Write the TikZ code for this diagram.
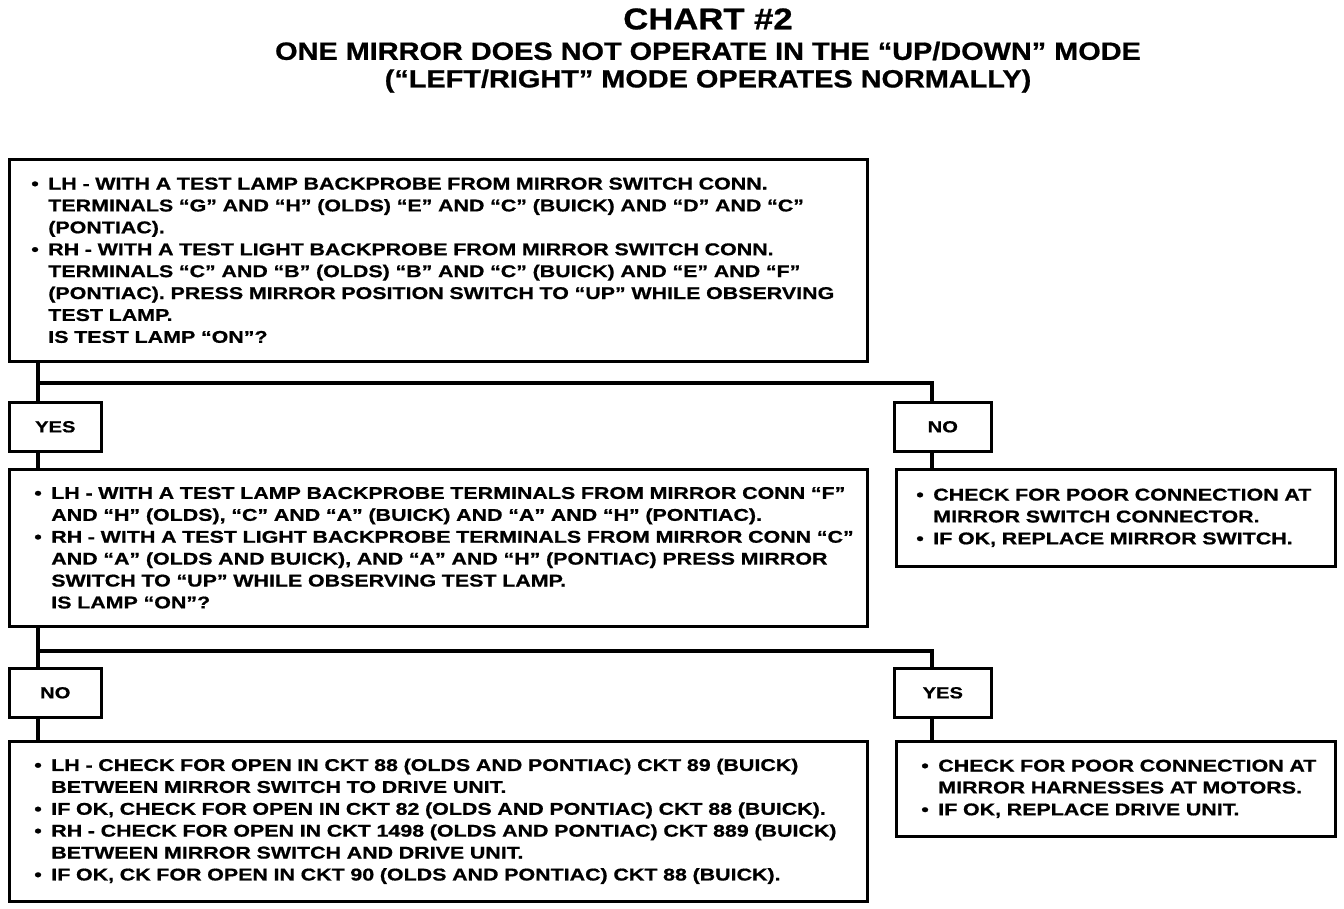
\documentclass[tikz,border=0pt]{standalone}
\usepackage{fontspec}
\newfontfamily\bodyf[FakeStretch=1.26,FakeBold=0.8]{Liberation Sans Bold}
\newfontfamily\titlef[FakeStretch=1.155,FakeBold=0.8]{Liberation Sans Bold}
\newcommand{\bl}{\makebox[17pt][l]{•}}
\newcommand{\ind}{\hspace*{17pt}}
\newcommand{\tline}[1]{\makebox[\linewidth][l]{#1}}
\tikzset{
  box/.style={draw, line width=2.6pt, anchor=north west, align=left, inner ysep=0pt,
    font={\bodyf\fontsize{17}{21.9}\selectfont}},
  lbl/.style={draw, line width=2.6pt, anchor=north west, inner sep=0pt,
    minimum width=92pt, minimum height=49pt, font={\bodyf\fontsize{16}{18}\selectfont}},
  conn/.style={line width=4pt}
}
\begin{document}
\begin{tikzpicture}[x=1pt,y=-1pt]
\useasboundingbox (0,0) rectangle (1344,908);
% title
\node (t1) at (708,19) {\titlef\fontsize{30}{30}\selectfont CHART \#2};
\node (t2) at (708,51) {\titlef\fontsize{25}{25}\selectfont ONE MIRROR DOES NOT OPERATE IN THE “UP/DOWN” MODE};
\node (t3) at (708,81) {\titlef\fontsize{25}{25}\selectfont (“LEFT/RIGHT” MODE OPERATES NORMALLY)};
% box 1
\node[box, minimum width=858pt, minimum height=202pt, text width=814pt, inner xsep=22pt] (box1) at (8,158) {%
\tline{\bl LH - WITH A TEST LAMP BACKPROBE FROM MIRROR SWITCH CONN.}\\
\tline{\ind TERMINALS “G” AND “H” (OLDS) “E” AND “C” (BUICK) AND “D” AND “C”}\\
\tline{\ind (PONTIAC).}\\
\tline{\bl RH - WITH A TEST LIGHT BACKPROBE FROM MIRROR SWITCH CONN.}\\
\tline{\ind TERMINALS “C” AND “B” (OLDS) “B” AND “C” (BUICK) AND “E” AND “F”}\\
\tline{\ind (PONTIAC). PRESS MIRROR POSITION SWITCH TO “UP” WHILE OBSERVING}\\
\tline{\ind TEST LAMP.}\\
\tline{\ind IS TEST LAMP “ON”?}};
\node[lbl] (yes1) at (8,401) {YES};
\node[lbl, minimum width=97pt] (no1) at (893,401) {NO};
% box 2
\node[box, minimum width=858pt, minimum height=157pt, text width=808pt, inner xsep=25pt] (box2) at (8,468) {%
\tline{\bl LH - WITH A TEST LAMP BACKPROBE TERMINALS FROM MIRROR CONN “F”}\\
\tline{\ind AND “H” (OLDS), “C” AND “A” (BUICK) AND “A” AND “H” (PONTIAC).}\\
\tline{\bl RH - WITH A TEST LIGHT BACKPROBE TERMINALS FROM MIRROR CONN “C”}\\
\tline{\ind AND “A” (OLDS AND BUICK), AND “A” AND “H” (PONTIAC) PRESS MIRROR}\\
\tline{\ind SWITCH TO “UP” WHILE OBSERVING TEST LAMP.}\\
\tline{\ind IS LAMP “ON”?}};
% box 3
\node[box, minimum width=439pt, minimum height=97pt, text width=399pt, inner xsep=20pt] (box3) at (895,468) {%
\tline{\bl CHECK FOR POOR CONNECTION AT}\\
\tline{\ind MIRROR SWITCH CONNECTOR.}\\
\tline{\bl IF OK, REPLACE MIRROR SWITCH.}};
\node[lbl] (no2) at (8,667) {NO};
\node[lbl, minimum width=97pt] (yes2) at (893,667) {YES};
% box 4
\node[box, minimum width=858pt, minimum height=160pt, text width=808pt, inner xsep=25pt] (box4) at (8,740) {%
\tline{\bl LH - CHECK FOR OPEN IN CKT 88 (OLDS AND PONTIAC) CKT 89 (BUICK)}\\
\tline{\ind BETWEEN MIRROR SWITCH TO DRIVE UNIT.}\\
\tline{\bl IF OK, CHECK FOR OPEN IN CKT 82 (OLDS AND PONTIAC) CKT 88 (BUICK).}\\
\tline{\bl RH - CHECK FOR OPEN IN CKT 1498 (OLDS AND PONTIAC) CKT 889 (BUICK)}\\
\tline{\ind BETWEEN MIRROR SWITCH AND DRIVE UNIT.}\\
\tline{\bl IF OK, CK FOR OPEN IN CKT 90 (OLDS AND PONTIAC) CKT 88 (BUICK).}};
% box 5
\node[box, minimum width=439pt, minimum height=95pt, text width=389pt, inner xsep=25pt] (box5) at (895,740) {%
\tline{\bl CHECK FOR POOR CONNECTION AT}\\
\tline{\ind MIRROR HARNESSES AT MOTORS.}\\
\tline{\bl IF OK, REPLACE DRIVE UNIT.}};
% connectors
\coordinate (b1) at (38,383);
\coordinate (b1r) at (932,383);
\coordinate (b2) at (38,651);
\coordinate (b2r) at (932,651);
\draw[conn] (box1.south -| b1) -- (yes1.north -| b1);
\draw[conn] (b1) -- (b1r) -- (no1.north -| b1r);
\draw[conn] (yes1.south -| b1) -- (box2.north -| b1);
\draw[conn] (no1.south -| b1r) -- (box3.north -| b1r);
\draw[conn] (box2.south -| b2) -- (no2.north -| b2);
\draw[conn] (b2) -- (b2r) -- (yes2.north -| b2r);
\draw[conn] (no2.south -| b2) -- (box4.north -| b2);
\draw[conn] (yes2.south -| b2r) -- (box5.north -| b2r);
\end{tikzpicture}
\end{document}
